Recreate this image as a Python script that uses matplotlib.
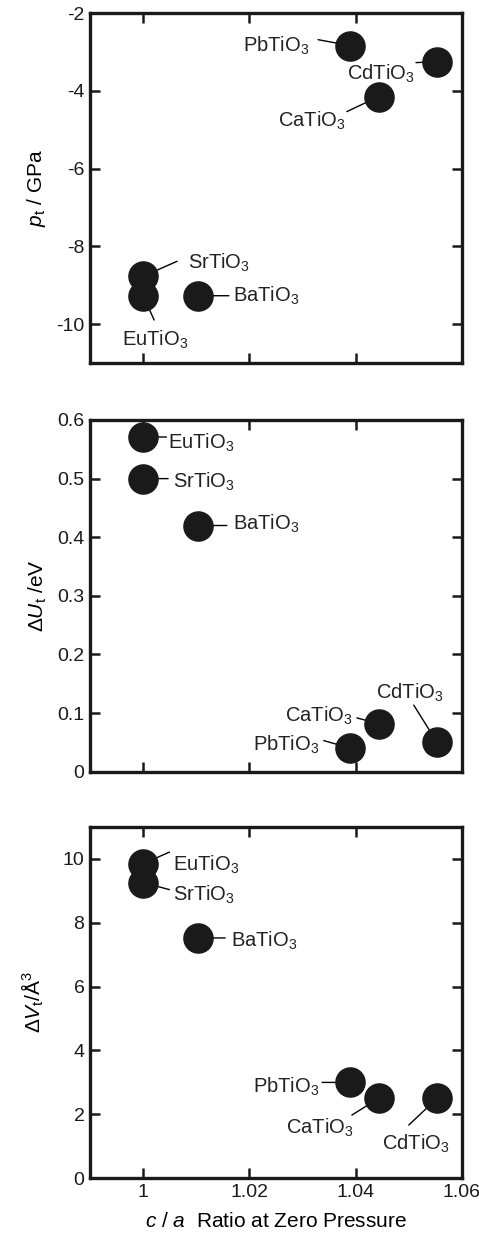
import matplotlib
matplotlib.use("Agg")
import matplotlib.pyplot as plt
from matplotlib.ticker import FormatStrFormatter, MultipleLocator

plt.rcParams["font.family"] = ["Liberation Sans", "DejaVu Sans"]
plt.rcParams["mathtext.fontset"] = "custom"
plt.rcParams["mathtext.rm"] = "Liberation Sans"
plt.rcParams["mathtext.it"] = "Liberation Sans:italic"
plt.rcParams["mathtext.default"] = "regular"
plt.rcParams["axes.unicode_minus"] = False

# data
names = ["PbTiO3", "CdTiO3", "CaTiO3", "SrTiO3", "EuTiO3", "BaTiO3"]
ca_ratio = [1.039, 1.0553, 1.0443, 1.000, 1.000, 1.0103]
p_t = [-2.84, -3.25, -4.15, -8.77, -9.27, -9.27]
dU_t = [0.040, 0.050, 0.082, 0.500, 0.571, 0.420]
dV_t = [3.0, 2.5, 2.5, 9.25, 9.84, 7.52]

labels = {n: n[:-1] + "$_3$" for n in names}

# label placement, pixels relative to the marker (x right, y down):
# (text dx, text dy to baseline, ha, leader end dx, leader end dy)
place_p = {
    "PbTiO3": (-40.7, 5.6, "right", -32.3, -6),
    "CdTiO3": (-22.3, 18.4, "right", -21, 1),
    "CaTiO3": (-32.7, 30, "right", -31.7, 15),
    "SrTiO3": (45, -7.3, "left", 34, -15),
    "EuTiO3": (12.2, 50, "center", 11, 24.3),
    "BaTiO3": (35, 6, "left", 31, 0),
}
place_u = {
    "EuTiO3": (25, 11.7, "left", 23.3, 0),
    "SrTiO3": (30, 9.3, "left", 25, 0),
    "BaTiO3": (34.7, 4.3, "left", 29, 0),
    "CaTiO3": (-25.7, -2.3, "right", -21.7, -5.7),
    "PbTiO3": (-31, 2.3, "right", -26.7, -7.7),
    "CdTiO3": (-26.9, -43.3, "center", -23.3, -37.3),
}
place_v = {
    "EuTiO3": (30.3, 6.7, "left", 26.3, -11.7),
    "SrTiO3": (29.7, 18.3, "left", 26.3, 7),
    "BaTiO3": (33.3, 8.7, "left", 27.3, 0),
    "PbTiO3": (-30.7, 10.3, "right", -28.3, 0),
    "CaTiO3": (-25, 35.7, "right", -26.7, 16.7),
    "CdTiO3": (-21.7, 51.7, "center", -28.3, 26.7),
}

W, H = 479, 1236
fig = plt.figure(figsize=(W / 100, H / 100), dpi=100)

left = 90 / W
width = (462 - 90) / W
boxes = [(13, 363), (420, 771.7), (826.7, 1178.3)]
axes = [fig.add_axes([left, 1 - b / H, width, (b - t) / H]) for t, b in boxes]

px = 0.72  # pixels -> points at dpi 100
fs_lab = 14.5
fs_tick = 14
fs_axis = 15


def panel(ax, yvals, place):
    for n, x, y in zip(names, ca_ratio, yvals):
        tdx, tdy, ha, ldx, ldy = place[n]
        ax.annotate("", xy=(x, y), xytext=(ldx * px, -ldy * px),
                    textcoords="offset points",
                    arrowprops=dict(arrowstyle="-", color="black", lw=1,
                                    shrinkA=0, shrinkB=0))
        ax.annotate(labels[n], xy=(x, y), xytext=(tdx * px, -tdy * px),
                    textcoords="offset points", ha=ha, va="baseline",
                    fontsize=fs_lab, color="#222222")
    ax.plot(ca_ratio, yvals, "o", color="#1a1a1a", ms=21, zorder=5,
            clip_on=False)
    ax.set_xlim(0.99, 1.06)
    ax.xaxis.set_major_locator(MultipleLocator(0.02))
    ax.xaxis.set_major_formatter(FormatStrFormatter("%g"))
    ax.yaxis.set_major_formatter(FormatStrFormatter("%g"))
    ax.tick_params(direction="in", length=7, width=1.8, top=True, right=True,
                   labelsize=fs_tick, pad=4, colors="#1a1a1a")
    for s in ax.spines.values():
        s.set_linewidth(2.4)
        s.set_color("#1a1a1a")


panel(axes[0], p_t, place_p)
axes[0].set_ylim(-11, -2)
axes[0].yaxis.set_major_locator(MultipleLocator(2))
axes[0].set_ylabel("$\\mathit{p}_{t}$ / GPa", fontsize=fs_axis, labelpad=6)

panel(axes[1], dU_t, place_u)
axes[1].set_ylim(0, 0.6)
axes[1].yaxis.set_major_locator(MultipleLocator(0.1))
axes[1].set_ylabel("$\\Delta\\mathit{U}_{t}$ /eV", fontsize=fs_axis, labelpad=6)

panel(axes[2], dV_t, place_v)
axes[2].set_ylim(0, 11)
axes[2].yaxis.set_major_locator(MultipleLocator(2))
axes[2].set_ylabel("$\\Delta\\mathit{V}_{t}$/Å$^3$", fontsize=fs_axis, labelpad=12)
axes[2].set_xlabel("$\\mathit{c}$ / $\\mathit{a}$  Ratio at Zero Pressure",
                   fontsize=fs_axis, labelpad=8)

axes[0].tick_params(labelbottom=False)
axes[1].tick_params(labelbottom=False)

fig.savefig("out.png", dpi=100)
